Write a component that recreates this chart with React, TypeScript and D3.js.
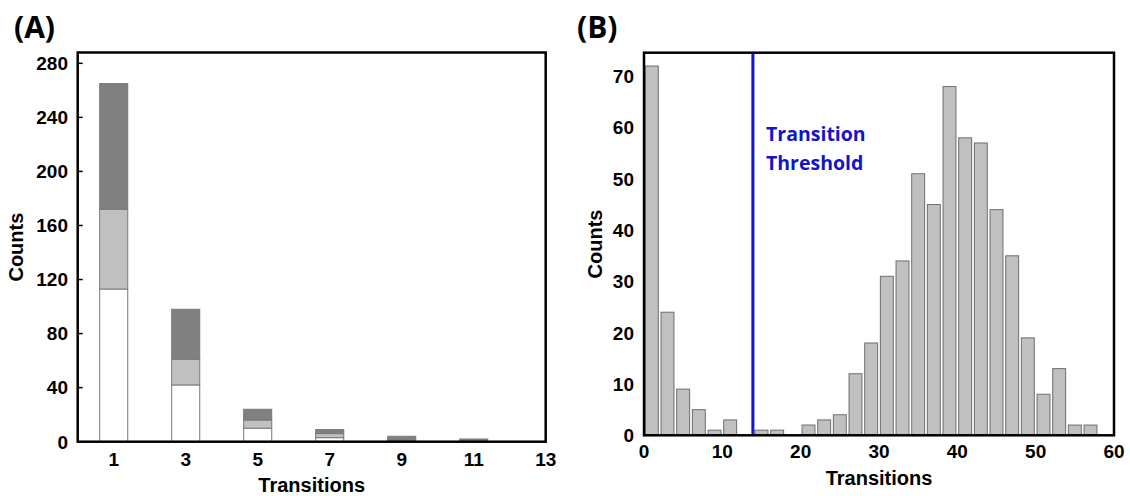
import * as d3 from 'd3';

// Panel A: stacked counts per transition number
const aCategories = [1, 3, 5, 7, 9, 11];
const aWhite = [113, 42, 10, 3, 0, 0];
const aLight = [59, 19, 6, 3, 1, 0];
const aDark = [93, 37, 8, 3, 3, 2];
const aXTicks = [1, 3, 5, 7, 9, 11, 13];
const aYTicks = [0, 40, 80, 120, 160, 200, 240, 280];

// Panel B: histogram of transitions (bins centred on odd numbers)
const bCenters = [1, 3, 5, 7, 9, 11, 13, 15, 17, 19, 21, 23, 25, 27, 29, 31, 33, 35, 37, 39, 41, 43, 45, 47, 49, 51, 53, 55, 57];
const bCounts = [72, 24, 9, 5, 1, 3, 0, 1, 1, 0, 2, 3, 4, 12, 18, 31, 34, 51, 45, 68, 58, 57, 44, 35, 19, 8, 13, 2, 2];
const bXTicks = [0, 10, 20, 30, 40, 50, 60];
const bYTicks = [0, 10, 20, 30, 40, 50, 60, 70];
const threshold = 13.9;

const FONT = '"Liberation Sans", Arial, sans-serif';
const LABEL_FONT = '"Open Sans", "Noto Sans", sans-serif';
const SHADES = ['#ffffff', '#c0c0c0', '#808080'];

function PanelA() {
  const x = d3.scaleLinear().domain([0, 13]).range([77.7, 545.7]);
  const y = d3.scaleLinear().domain([0, 288]).range([441.7, 52.5]);
  const barW = x(0.78) - x(0);

  const rows = aCategories.map((c, i) => ({ c, white: aWhite[i], light: aLight[i], dark: aDark[i] }));
  const series = d3.stack<{ c: number; white: number; light: number; dark: number }>()
    .keys(['white', 'light', 'dark'])(rows);

  const [x0, x1] = x.range();
  const [y0, y1] = y.range();

  return (
    <g>
      <text x={14} y={38} fontFamily={LABEL_FONT} fontWeight={700} fontSize={30}>(A)</text>
      {series.map((s, si) =>
        s.map((d, i) => (d[1] - d[0] > 0 ? (
          <rect
            key={`${si}-${i}`}
            x={x(aCategories[i]) - barW / 2}
            y={y(d[1])}
            width={barW}
            height={y(d[0]) - y(d[1])}
            fill={SHADES[si]}
            stroke="#7a7a7a"
            strokeWidth={1}
          />
        ) : null))
      )}
      {aYTicks.map((t) => (
        <g key={t}>
          <line x1={x0} x2={x0 + 5} y1={y(t)} y2={y(t)} stroke="#000" strokeWidth={1.5} />
          <text x={68} y={y(t)} dy="0.36em" textAnchor="end" fontFamily={FONT} fontWeight={700} fontSize={19}>{t}</text>
        </g>
      ))}
      {aXTicks.map((t) => (
        <text key={t} x={x(t)} y={466} textAnchor="middle" fontFamily={FONT} fontWeight={700} fontSize={19}>{t}</text>
      ))}
      <rect x={x0} y={y1} width={x1 - x0} height={y0 - y1} fill="none" stroke="#000" strokeWidth={2.5} />
      <text x={(x0 + x1) / 2} y={492} textAnchor="middle" fontFamily={FONT} fontWeight={700} fontSize={20}>Transitions</text>
      <text transform={`translate(23,${(y0 + y1) / 2}) rotate(-90)`} textAnchor="middle" fontFamily={FONT} fontWeight={700} fontSize={20}>Counts</text>
    </g>
  );
}

function PanelB() {
  const x = d3.scaleLinear().domain([0, 60]).range([644, 1114]);
  const y = d3.scaleLinear().domain([0, 74.6]).range([435.3, 52.7]);
  const barW = x(1.65) - x(0);
  const [x0, x1] = x.range();
  const [y0, y1] = y.range();

  return (
    <g>
      <text x={577} y={38} fontFamily={LABEL_FONT} fontWeight={700} fontSize={30}>(B)</text>
      {bCenters.map((c, i) => (bCounts[i] > 0 ? (
        <rect
          key={c}
          x={Math.max(x(c) - barW / 2, x0)}
          y={y(bCounts[i])}
          width={barW}
          height={y(0) - y(bCounts[i])}
          fill="#c0c0c0"
          stroke="#6e6e6e"
          strokeWidth={1}
        />
      ) : null))}
      <line x1={x(threshold)} x2={x(threshold)} y1={y1} y2={y0} stroke="#1414d2" strokeWidth={3} />
      <text fontFamily={LABEL_FONT} fontWeight={700} fontSize={19.5} fill="#1414c8">
        <tspan x={766} y={141}>Transition</tspan>
        <tspan x={766} y={170}>Threshold</tspan>
      </text>
      {bYTicks.map((t) => (
        <text key={t} x={634} y={y(t)} dy="0.36em" textAnchor="end" fontFamily={FONT} fontWeight={700} fontSize={19}>{t}</text>
      ))}
      {bXTicks.map((t) => (
        <text key={t} x={x(t)} y={458} textAnchor="middle" fontFamily={FONT} fontWeight={700} fontSize={19}>{t}</text>
      ))}
      <rect x={x0} y={y1} width={x1 - x0} height={y0 - y1} fill="none" stroke="#000" strokeWidth={2.5} />
      <text x={(x0 + x1) / 2} y={485} textAnchor="middle" fontFamily={FONT} fontWeight={700} fontSize={20}>Transitions</text>
      <text transform={`translate(602,${(y0 + y1) / 2}) rotate(-90)`} textAnchor="middle" fontFamily={FONT} fontWeight={700} fontSize={20}>Counts</text>
    </g>
  );
}

export default function App() {
  return (
    <svg
      width={1130}
      height={496}
      viewBox="0 0 1130 496"
      style={{ position: 'absolute', left: 0, top: 0, background: '#fff' }}
    >
      <PanelA />
      <PanelB />
    </svg>
  );
}
